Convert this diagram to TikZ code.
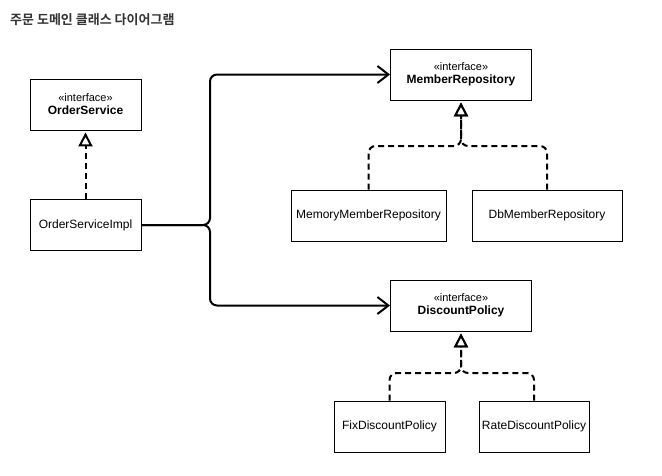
\documentclass[tikz,border=0pt]{standalone}
\usepackage{fontspec}
\setmainfont{Liberation Sans}
\newfontfamily\krfont{Noto Sans CJK KR}[BoldFont={Noto Sans CJK KR Bold}]
\usetikzlibrary{arrows.meta}
\definecolor{titlegray}{HTML}{333333}
\tikzset{
  cls/.style={draw=black, line width=0.9pt, fill=white, minimum height=51pt, inner sep=0pt, align=center, font=\fontsize{12}{14}\selectfont},
  uses/.style={line width=2pt, rounded corners=7pt, -{Straight Barb[length=11pt,width=17pt,line width=2pt]}},
  realizes/.style={line width=2pt, dash pattern=on 6pt off 4pt, rounded corners=7pt, -{Triangle[open,length=14pt,width=14pt,line width=2pt,fill=white]}, shorten >=2pt},
}
\newcommand{\stereo}[1]{{\fontsize{11}{13}\selectfont «interface»}\\[-1pt]\textbf{#1}}
\begin{document}
\begin{tikzpicture}[x=1pt,y=-1pt]
\useasboundingbox (0,0) rectangle (662,475);
\node[anchor=west, text=titlegray, font=\krfont\bfseries\fontsize{13}{15}\selectfont, inner sep=0pt] (title) at (10,20) {주문 도메인 클래스 다이어그램};

\node[cls, minimum width=111pt] (os) at (85.5,104.5) {\stereo{OrderService}};
\node[cls, minimum width=111pt] (osi) at (85.5,225) {OrderServiceImpl};
\node[cls, minimum width=141pt] (mr) at (461,74.5) {\stereo{MemberRepository}};
\node[cls, minimum width=155pt] (mmr) at (368.5,215.5) {MemoryMemberRepository};
\node[cls, minimum width=150pt] (dbr) at (547,215.5) {DbMemberRepository};
\node[cls, minimum width=141pt] (dp) at (461,305.5) {\stereo{DiscountPolicy}};
\node[cls, minimum width=111pt] (fix) at (389.5,426.5) {FixDiscountPolicy};
\node[cls, minimum width=110pt] (rate) at (534,426.5) {RateDiscountPolicy};

\coordinate (split) at (210,225);
\coordinate (j1) at (461,146);
\coordinate (j2) at (461,373);

\draw[realizes] (osi.north) -- (os.south);
\draw[uses] (osi.east) -- (split) |- (mr.west);
\draw[uses] (osi.east) -- (split) |- (dp.west);
\draw[realizes] (mmr.north) |- (j1) -- (mr.south);
\draw[realizes] (dbr.north) |- (j1) -- (mr.south);
\draw[realizes] (fix.north) |- (j2) -- (dp.south);
\draw[realizes] (rate.north) |- (j2) -- (dp.south);
\end{tikzpicture}
\end{document}
